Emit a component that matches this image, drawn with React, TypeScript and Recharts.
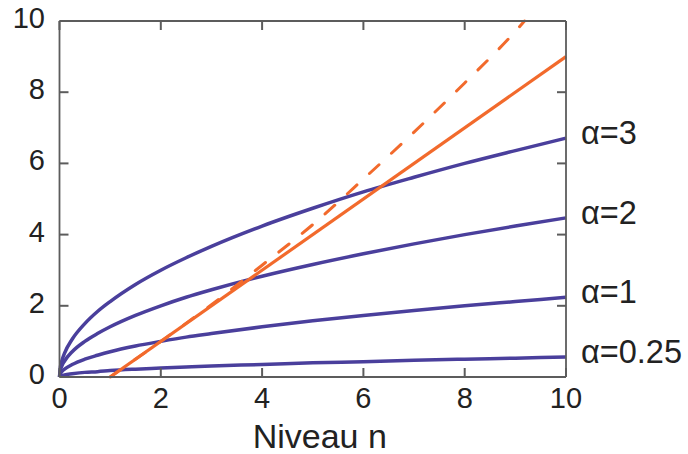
import React from 'react';
import { LineChart, Line, XAxis, YAxis } from 'recharts';

// sample positions along the niveau axis for the alpha curves
const nGrid = [0, 0.02, 0.05, 0.1, 0.25, 0.5, 0.75, 1, 1.5, 2, 2.5, 3, 4, 5, 6, 7, 8, 9, 10];

const alpha3 = [0, 0.3, 0.47, 0.67, 1.06, 1.5, 1.84, 2.12, 2.6, 3.0, 3.35, 3.67, 4.24, 4.74, 5.2, 5.61, 6.0, 6.36, 6.71];
const alpha2 = [0, 0.2, 0.32, 0.45, 0.71, 1.0, 1.22, 1.41, 1.73, 2.0, 2.24, 2.45, 2.83, 3.16, 3.46, 3.74, 4.0, 4.24, 4.47];
const alpha1 = [0, 0.1, 0.16, 0.22, 0.35, 0.5, 0.61, 0.71, 0.87, 1.0, 1.12, 1.22, 1.41, 1.58, 1.73, 1.87, 2.0, 2.12, 2.24];
const alpha025 = [0, 0.03, 0.04, 0.06, 0.09, 0.13, 0.15, 0.18, 0.22, 0.25, 0.28, 0.31, 0.35, 0.4, 0.43, 0.47, 0.5, 0.53, 0.56];

const solidN = [1, 10];
const solidV = [0, 9];

const dashedN = [1, 2, 3, 4, 5, 6, 7, 8, 9, 9.18];
const dashedV = [0, 1.0, 2.03, 3.14, 4.28, 5.56, 6.88, 8.26, 9.71, 10];

const axisTicks = [0, 2, 4, 6, 8, 10];

const BLUE = '#4a3f9c';
const ORANGE = '#f26a2c';
const AXIS = '#5c5c5c';
const TEXT = '#222';
const TICK_LEN = 9;

const toRows = (xs: number[], ys: number[]) => xs.map((n, i) => ({ n, v: ys[i] }));

// ticks point into the plot box; x/y arrive on the axis line (tickSize 0, tickMargin 0)
const BottomTick = (props: any) => {
  const { x, y, payload } = props;
  return (
    <g>
      <path d={`M${x},${y}L${x},${y - TICK_LEN}`} stroke={AXIS} strokeWidth={2} fill="none" />
      <text x={x} y={y + 31} textAnchor="middle" fontSize={29} fill={TEXT}>
        {payload.value}
      </text>
    </g>
  );
};

const LeftTick = (props: any) => {
  const { x, y, payload } = props;
  return (
    <g>
      <path d={`M${x},${y}L${x + TICK_LEN},${y}`} stroke={AXIS} strokeWidth={2} fill="none" />
      <text x={x - 14.5} y={y + 7} textAnchor="end" fontSize={29} fill={TEXT}>
        {payload.value}
      </text>
    </g>
  );
};

const TopTick = (props: any) => (
  <path d={`M${props.x},${props.y}L${props.x},${props.y + TICK_LEN}`} stroke={AXIS} strokeWidth={2} fill="none" />
);

const RightTick = (props: any) => (
  <path d={`M${props.x},${props.y}L${props.x - TICK_LEN},${props.y}`} stroke={AXIS} strokeWidth={2} fill="none" />
);

const endLabel = (text: string, count: number) => (props: any) => {
  const { x, y, index } = props;
  if (index !== count - 1) return <g key={`l-${index}`} />;
  return (
    <text key={`l-${index}`} x={x + 15} y={y - 6} dy="0.36em" fontSize={32.5} fill={TEXT}>
      {text}
    </text>
  );
};

const curves = [
  { key: 'a3', values: alpha3, label: 'α=3' },
  { key: 'a2', values: alpha2, label: 'α=2' },
  { key: 'a1', values: alpha1, label: 'α=1' },
  { key: 'a025', values: alpha025, label: 'α=0.25' },
];

const axisLine = { stroke: AXIS, strokeWidth: 1.8 };

export default function App() {
  return (
    <div style={{ position: 'absolute', left: 0, top: 0, background: '#fff' }}>
      <LineChart
        width={688}
        height={454}
        margin={{ top: 20, right: 121, bottom: 0, left: 0 }}
        style={{ fontFamily: '"Liberation Sans", Arial, sans-serif' }}
      >
        <XAxis
          dataKey="n"
          type="number"
          domain={[0, 10]}
          ticks={axisTicks}
          allowDuplicatedCategory={false}
          height={77}
          tickSize={0}
          tickMargin={0}
          axisLine={axisLine}
          tickLine={false}
          tick={<BottomTick />}
          label={{ value: 'Niveau n', position: 'insideBottom', offset: 6, dx: 7, fontSize: 34, fill: TEXT }}
        />
        {/* mirrored box edges: a 0-size axis is skipped, so give them 1px */}
        <XAxis
          xAxisId="top"
          orientation="top"
          dataKey="n"
          type="number"
          domain={[0, 10]}
          ticks={axisTicks}
          height={1}
          tickSize={0}
          tickMargin={0}
          tick={<TopTick />}
          axisLine={axisLine}
          tickLine={false}
        />
        <YAxis
          type="number"
          domain={[0, 10]}
          ticks={axisTicks}
          width={59.5}
          tickSize={0}
          tickMargin={0}
          axisLine={axisLine}
          tickLine={false}
          tick={<LeftTick />}
        />
        <YAxis
          yAxisId="right"
          orientation="right"
          type="number"
          domain={[0, 10]}
          ticks={axisTicks}
          width={1}
          tickSize={0}
          tickMargin={0}
          tick={<RightTick />}
          axisLine={axisLine}
          tickLine={false}
        />
        {curves.map((c) => (
          <Line
            key={c.key}
            data={toRows(nGrid, c.values)}
            dataKey="v"
            type="monotone"
            stroke={BLUE}
            strokeWidth={3.5}
            dot={false}
            isAnimationActive={false}
            label={endLabel(c.label, nGrid.length)}
          />
        ))}
        {/* same [0,10] domains, so plotting on the mirrored axes keeps them in use */}
        <Line
          xAxisId="top"
          yAxisId="right"
          data={toRows(dashedN, dashedV)}
          dataKey="v"
          type="monotone"
          stroke={ORANGE}
          strokeWidth={3}
          strokeDasharray="13 17"
          strokeLinecap="round"
          dot={false}
          isAnimationActive={false}
        />
        <Line
          data={toRows(solidN, solidV)}
          dataKey="v"
          type="linear"
          stroke={ORANGE}
          strokeWidth={3.2}
          dot={false}
          isAnimationActive={false}
        />
      </LineChart>
    </div>
  );
}
